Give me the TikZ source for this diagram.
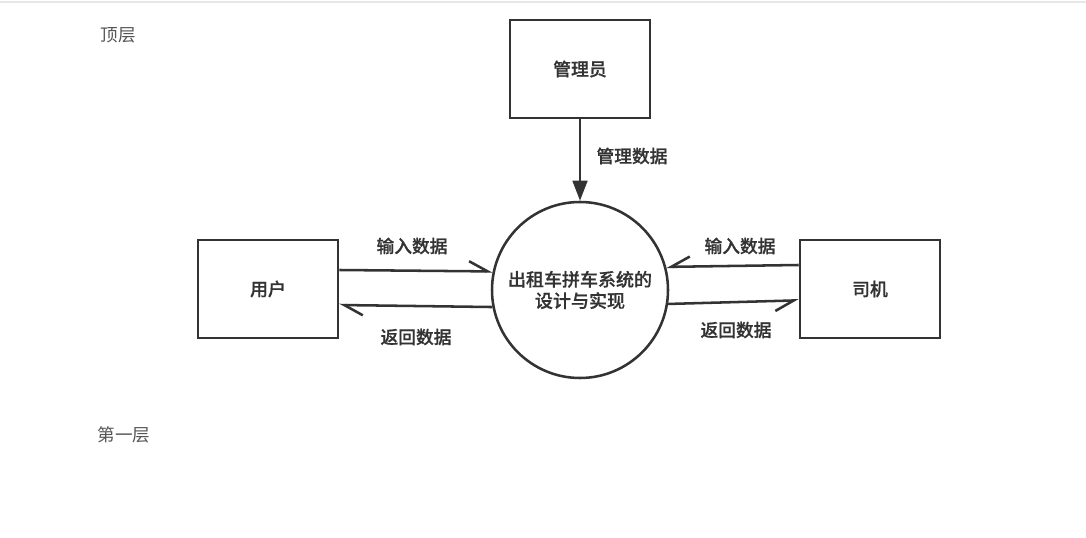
\documentclass[tikz,border=0pt]{standalone}
\usepackage{fontspec}
\usepackage{xcolor}
\usepackage{tikz}
\usetikzlibrary{arrows.meta,positioning}
\newfontfamily\cjk{Noto Sans CJK SC}[BoldFont={Noto Sans CJK SC Medium},BoldFeatures={FakeBold=0.7}]
\definecolor{ink}{HTML}{333333}
\definecolor{layergray}{HTML}{555555}
\definecolor{rulegray}{HTML}{E6E6E6}

\begin{document}
\begin{tikzpicture}[x=0.75pt,y=-0.75pt,font=\cjk\fontsize{13.2pt}{15.5pt}\selectfont,
  entity/.style={draw=ink,line width=1.9pt,minimum width=105pt,minimum height=73.5pt,font=\cjk\bfseries\fontsize{13.4pt}{15pt}\selectfont,text=ink},
  proc/.style={circle,draw=ink,line width=1.9pt,minimum size=132pt,align=center,font=\cjk\bfseries\fontsize{13.5pt}{16pt}\selectfont,text=ink},
  flow/.style={draw=ink,line width=1.9pt},
  lbl/.style={text=ink,font=\cjk\bfseries\fontsize{13.3pt}{15pt}\selectfont}]
  \useasboundingbox (0,0) rectangle (1086,538);
  \draw[rulegray,line width=2.2pt] (0,2) -- (1086,2);
  \node[text=layergray] (top) at (118,35) {顶层};
  \node[text=layergray] (first) at (124,435) {第一层};

  \node[entity] (admin) at (580,69) {管理员};
  \node[entity] (user) at (268,289) {用户};
  \node[entity] (driver) at (870,289) {司机};
  \node[proc] (sys) at (580,290) {出租车拼车系统的\\设计与实现};

  % admin -> system
  \draw[flow,-{Triangle[length=15pt,width=11pt]}] (admin) -- (sys);
  \node[lbl] (admindata) at (632,156) {管理数据};

  % user <-> system
  \draw[flow,-{Straight Barb[harpoon,length=14pt,width=15pt,line width=1.9pt]}] ([yshift=14.25pt]user.east) -- (sys.168);
  \draw[flow,-{Straight Barb[harpoon,length=14pt,width=15pt,line width=1.9pt]}] (sys.191) -- ([yshift=-12pt]user.east);
  \node[lbl] (userin) at (412,246) {输入数据};
  \node[lbl] (userout) at (416,337) {返回数据};

  % driver <-> system
  \draw[flow,-{Straight Barb[harpoon,swap,length=14pt,width=15pt,line width=1.9pt]}] ([yshift=18pt]driver.west) -- (sys.15);
  \draw[flow,-{Straight Barb[harpoon,swap,length=14pt,width=15pt,line width=1.9pt]}] (sys.351) -- ([yshift=-8.5pt]driver.west);
  \node[lbl] (driverin) at (740,246) {输入数据};
  \node[lbl] (driverout) at (736,330) {返回数据};
\end{tikzpicture}
\end{document}
